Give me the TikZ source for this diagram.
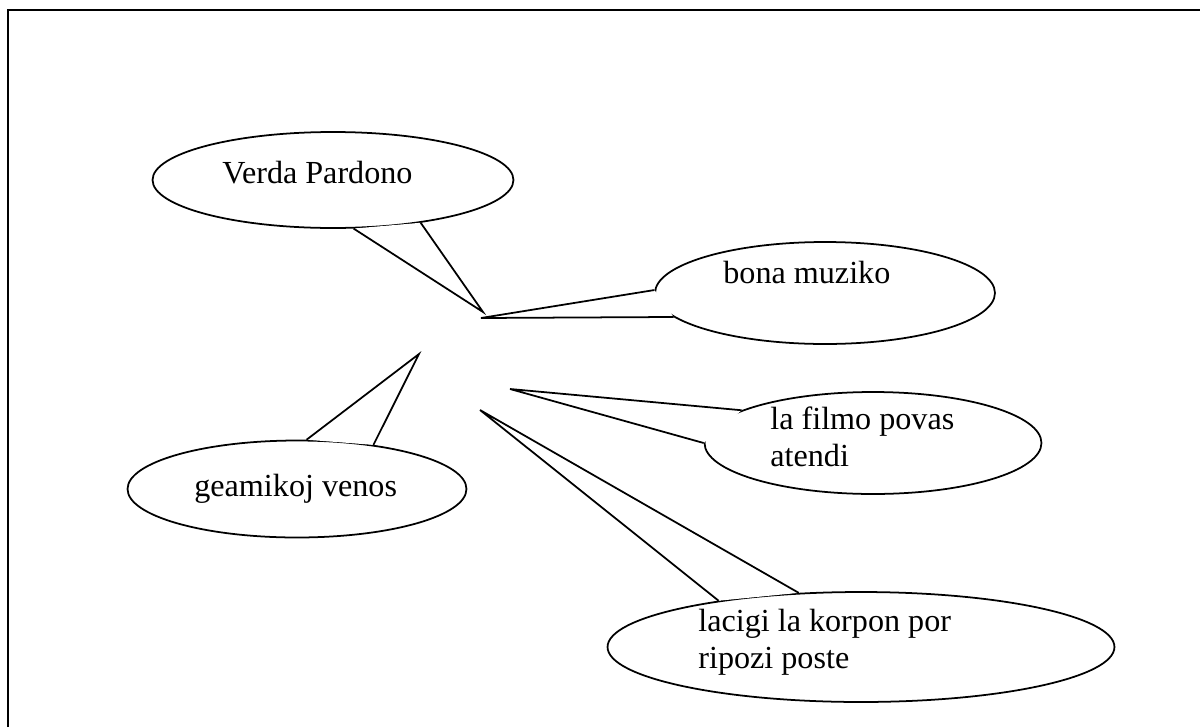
\documentclass[tikz,border=0pt]{standalone}
\usepackage{fontspec}
\setmainfont{Liberation Serif}
\usetikzlibrary{shapes}
\usetikzlibrary{positioning}
\tikzstyle{bubble} = [ellipse, draw=black, line width=1pt, fill=white, inner sep=0pt]
\tikzstyle{words} = [inner sep=0pt, anchor=base west, align=left, font=\fontsize{18.3}{20.9}\selectfont]
\tikzstyle{tail} = [line width=1pt, line join=miter]

\begin{document}
\begin{tikzpicture}[x=0.02cm, y=-0.02cm]
  \useasboundingbox (0,0) rectangle (1200,727);
  \draw[line width=1.6pt] (8,727) -- (8,10) -- (1200,10);

  % the bubbles
  \node(verda)[bubble, minimum width=7.22cm, minimum height=1.92cm] at (333,180) {};
  \node(bona)[bubble, minimum width=6.8cm, minimum height=2.04cm] at (825,293) {};
  \node(filmo)[bubble, minimum width=6.74cm, minimum height=2.04cm] at (873,443) {};
  \node(geamikoj)[bubble, minimum width=6.78cm, minimum height=1.94cm] at (297,489) {};
  \node(lacigi)[bubble, minimum width=10.14cm, minimum height=2.2cm] at (861,647) {};

  % the tails
  \coordinate(verdatip) at (483,312);
  \coordinate(bonatip) at (481,318);
  \coordinate(filmotip) at (510,389);
  \coordinate(geamikojtip) at (419,354);
  \coordinate(lacigitip) at (480,410);
  \fill[white] (verda.-67) -- (verdatip) -- (verda.-26) -- cycle;
  \draw[tail] (verda.-67) -- (verdatip) -- (verda.-26);
  \fill[white] (bona.179) -- (bonatip) -- (bona.189) -- cycle;
  \draw[tail] (bona.179) -- (bonatip) -- (bona.189);
  \fill[white] (filmo.166) -- (filmotip) -- (filmo.180) -- cycle;
  \draw[tail] (filmo.166) -- (filmotip) -- (filmo.180);
  \fill[white] (geamikoj.79) -- (geamikojtip) -- (geamikoj.30) -- cycle;
  \draw[tail] (geamikoj.79) -- (geamikojtip) -- (geamikoj.30);
  \fill[white] (lacigi.162) -- (lacigitip) -- (lacigi.139) -- cycle;
  \draw[tail] (lacigi.162) -- (lacigitip) -- (lacigi.139);

  % the texts
  \node(verdatext)[words] at (222,183) {Verda Pardono};
  \node(bonatext)[words] at (723,283) {bona muziko};
  \node(filmotext)[words] at (770,466) {la filmo povas\\atendi};
  \node(geamikojtext)[words] at (194,496) {geamikoj venos};
  \node(lacigitext)[words] at (698,668) {lacigi la korpon por\\ripozi poste};
\end{tikzpicture}
\end{document}
